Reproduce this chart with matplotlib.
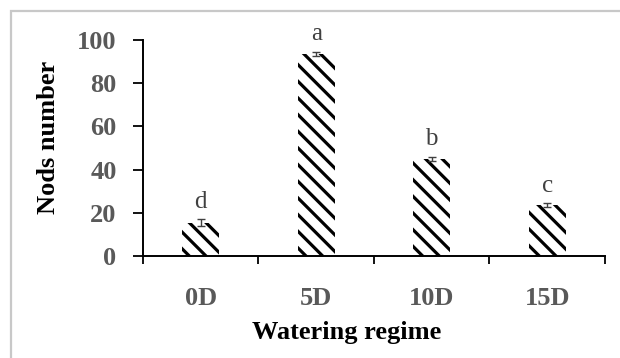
import matplotlib
matplotlib.use("Agg")
import matplotlib.pyplot as plt
from matplotlib.patches import Rectangle

# data
regimes = ["0D", "5D", "10D", "15D"]
nods = [15.5, 93.5, 45, 23.5]
errors = [1.5, 1.0, 1.0, 1.0]
letters = ["d", "a", "b", "c"]

plt.rcParams["font.family"] = ["Liberation Serif", "DejaVu Serif"]
plt.rcParams["hatch.linewidth"] = 2.3

fig = plt.figure(figsize=(6.2, 3.58), dpi=100)
ax = fig.add_axes([0.2306, 0.285, 0.745, 0.603])

# light grey frame of the original chart area
fig.patches.append(Rectangle((11 / 620, -0.2), 1.2, (358 - 11) / 358 + 0.2,
                             transform=fig.transFigure, fill=False,
                             edgecolor="#c8c8c8", linewidth=1.6))

x = list(range(len(regimes)))
ax.bar(x, nods, width=0.32, color="white", edgecolor="black",
       linewidth=0, hatch="\\\\", zorder=2)
ax.errorbar(x, nods, yerr=errors, fmt="none", ecolor="#404040",
            elinewidth=1.0, capsize=3, zorder=3)

for xi, v, e, l in zip(x, nods, errors, letters):
    ax.text(xi, v + e + 3.0, l, ha="center", va="bottom",
            fontsize=18, color="#404040")

ax.set_xlim(-0.5, 3.5)
ax.set_ylim(0, 100)
ax.set_yticks([0, 20, 40, 60, 80, 100])

ax.set_xticks(x)
ax.set_xticklabels(regimes)
ax.set_xticks([-0.5, 0.5, 1.5, 2.5, 3.5], minor=True)
ax.tick_params(axis="x", which="major", length=0, pad=22)
ax.tick_params(axis="x", which="minor", length=6, width=1.3, direction="out")
ax.tick_params(axis="y", length=7, width=1.3, direction="out", pad=12)

for lab in ax.get_xticklabels() + ax.get_yticklabels():
    lab.set_fontsize(19)
    lab.set_fontweight("bold")
    lab.set_color("#595959")

for s in ["top", "right"]:
    ax.spines[s].set_visible(False)
for s in ["left", "bottom"]:
    ax.spines[s].set_linewidth(1.4)

ax.set_ylabel("Nods number", fontsize=19, fontweight="bold", labelpad=12)
ax.set_xlabel("Watering regime", fontsize=19, fontweight="bold", labelpad=8)
ax.yaxis.label.set_y(0.55)
ax.xaxis.label.set_x(0.44)

fig.savefig("out.png", dpi=100)
